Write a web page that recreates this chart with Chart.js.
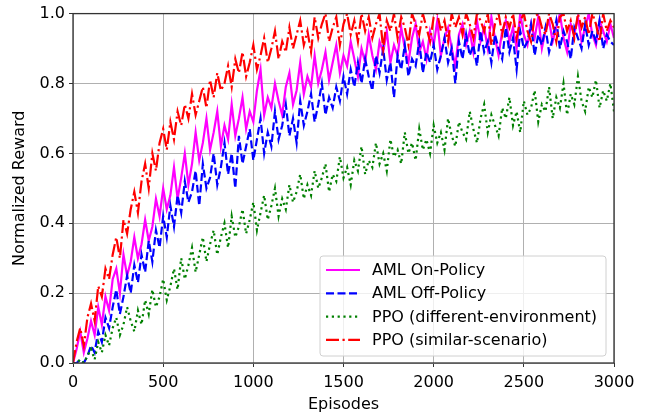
<!DOCTYPE html>
<html>
<head>
<meta charset="utf-8">
<script src="https://cdn.jsdelivr.net/npm/chart.js@4.4.0/dist/chart.umd.min.js"></script>
<style>
  body { margin: 0; background: #fff; }
  canvas { display: block; }
</style>
</head>
<body>
<canvas id="rewardChart" width="651" height="416"></canvas>
<script>
// sampled every 20 episodes, 0..3000
var amlOnPolicy = [
  0.00, 0.04, 0.09, 0.03, 0.07, 0.12, 0.08, 0.16, 0.11, 0.19,
  0.15, 0.24, 0.27, 0.20, 0.31, 0.25, 0.29, 0.36, 0.30, 0.34,
  0.41, 0.35, 0.39, 0.47, 0.42, 0.50, 0.44, 0.48, 0.56, 0.47,
  0.53, 0.60, 0.51, 0.57, 0.66, 0.58, 0.63, 0.70, 0.61, 0.66,
  0.72, 0.62, 0.68, 0.64, 0.74, 0.65, 0.70, 0.76, 0.67, 0.72,
  0.69, 0.78, 0.84, 0.71, 0.76, 0.73, 0.80, 0.75, 0.71, 0.79,
  0.83, 0.74, 0.78, 0.86, 0.77, 0.82, 0.79, 0.88, 0.80, 0.84,
  0.89, 0.81, 0.86, 0.91, 0.83, 0.88, 0.85, 0.92, 0.87, 0.82,
  0.90, 0.86, 0.94, 0.88, 0.84, 0.92, 0.89, 0.95, 0.86, 0.91,
  0.88, 0.96, 0.90, 0.86, 0.93, 0.97, 0.89, 0.92, 0.87, 0.95,
  0.91, 0.98, 0.88, 0.93, 0.96, 0.90, 0.85, 0.94, 0.97, 0.91,
  0.95, 0.89, 0.98, 0.92, 0.96, 0.90, 0.99, 0.93, 0.88, 0.95,
  0.98, 0.92, 0.96, 0.90, 1.00, 0.94, 0.91, 0.97, 0.93, 0.99,
  0.90, 0.95, 0.98, 0.92, 0.96, 1.00, 0.93, 0.89, 0.97, 0.94,
  0.99, 0.92, 0.96, 1.00, 0.94, 0.91, 0.98, 0.95, 0.92, 0.97,
  0.93
];
var amlOffPolicy = [
  0.00, 0.00, 0.01, 0.00, 0.02, 0.05, 0.03, 0.09, 0.06, 0.13,
  0.10, 0.16, 0.21, 0.14, 0.19, 0.25, 0.20, 0.28, 0.23, 0.31,
  0.26, 0.35, 0.29, 0.38, 0.33, 0.42, 0.36, 0.45, 0.39, 0.48,
  0.43, 0.52, 0.46, 0.49, 0.55, 0.45, 0.57, 0.50, 0.53, 0.60,
  0.51, 0.56, 0.63, 0.54, 0.60, 0.50, 0.65, 0.57, 0.62, 0.67,
  0.58, 0.64, 0.70, 0.60, 0.66, 0.62, 0.72, 0.64, 0.68, 0.74,
  0.65, 0.70, 0.63, 0.75, 0.68, 0.72, 0.77, 0.69, 0.74, 0.80,
  0.71, 0.76, 0.73, 0.79, 0.75, 0.82, 0.77, 0.84, 0.79, 0.86,
  0.80, 0.87, 0.82, 0.78, 0.88, 0.83, 0.90, 0.81, 0.86, 0.76,
  0.88, 0.84, 0.91, 0.82, 0.87, 0.85, 0.92, 0.83, 0.89, 0.86,
  0.91, 0.84, 0.88, 0.93, 0.86, 0.90, 0.80, 0.92, 0.87, 0.94,
  0.88, 0.91, 0.85, 0.95, 0.89, 0.92, 0.86, 0.94, 0.90, 0.87,
  0.96, 0.89, 0.93, 0.84, 0.95, 0.90, 0.92, 0.97, 0.88, 0.94,
  0.91, 0.96, 0.89, 0.93, 0.98, 0.90, 0.95, 0.92, 0.87, 0.96,
  0.93, 0.90, 0.97, 0.91, 0.95, 0.92, 0.98, 0.90, 0.94, 0.92,
  0.91
];
var ppoDifferentEnv = [
  0.00, 0.00, 0.01, 0.00, 0.02, 0.04, 0.01, 0.06, 0.03, 0.08,
  0.05, 0.10, 0.13, 0.08, 0.11, 0.16, 0.12, 0.09, 0.15, 0.11,
  0.18, 0.14, 0.21, 0.16, 0.19, 0.24, 0.18, 0.22, 0.27, 0.21,
  0.30, 0.24, 0.28, 0.33, 0.26, 0.31, 0.36, 0.29, 0.34, 0.38,
  0.31, 0.36, 0.40, 0.33, 0.42, 0.36, 0.39, 0.44, 0.37, 0.41,
  0.46, 0.38, 0.43, 0.48, 0.41, 0.45, 0.50, 0.42, 0.47, 0.44,
  0.51, 0.46, 0.49, 0.54, 0.47, 0.51, 0.48, 0.55, 0.50, 0.53,
  0.57, 0.49, 0.54, 0.52, 0.59, 0.53, 0.56, 0.51, 0.58, 0.55,
  0.62, 0.54, 0.58, 0.56, 0.63, 0.57, 0.60, 0.55, 0.64, 0.59,
  0.61, 0.57, 0.66, 0.60, 0.63, 0.58, 0.67, 0.61, 0.64, 0.60,
  0.68, 0.63, 0.66, 0.61, 0.70, 0.65, 0.62, 0.69, 0.66, 0.64,
  0.72, 0.67, 0.63, 0.70, 0.74, 0.66, 0.71, 0.68, 0.65, 0.73,
  0.70, 0.76, 0.68, 0.72, 0.66, 0.75, 0.71, 0.73, 0.78, 0.69,
  0.74, 0.72, 0.79, 0.70, 0.76, 0.73, 0.80, 0.71, 0.77, 0.74,
  0.82, 0.75, 0.72, 0.79, 0.76, 0.81, 0.73, 0.78, 0.75, 0.80,
  0.72
];
var ppoSimilarScenario = [
  0.00, 0.06, 0.10, 0.05, 0.13, 0.17, 0.12, 0.22, 0.19, 0.27,
  0.24, 0.31, 0.36, 0.30, 0.41, 0.37, 0.44, 0.49, 0.43, 0.52,
  0.57, 0.50, 0.60, 0.55, 0.63, 0.67, 0.61, 0.69, 0.64, 0.72,
  0.68, 0.74, 0.70, 0.77, 0.71, 0.75, 0.79, 0.73, 0.81, 0.76,
  0.83, 0.78, 0.80, 0.85, 0.79, 0.87, 0.83, 0.89, 0.82, 0.86,
  0.91, 0.84, 0.88, 0.93, 0.86, 0.90, 0.95, 0.87, 0.92, 0.89,
  0.96, 0.90, 0.94, 0.98, 0.91, 0.95, 0.89, 0.99, 0.93, 0.97,
  1.00, 0.92, 0.96, 0.99, 0.91, 0.97, 1.00, 0.94, 0.98, 0.92,
  1.00, 0.95, 0.99, 0.93, 0.97, 1.00, 0.90, 0.98, 0.95, 1.00,
  0.93, 0.99, 0.96, 0.91, 1.00, 0.97, 0.94, 1.00, 0.96, 0.92,
  0.99, 1.00, 0.95, 0.98, 0.92, 1.00, 0.96, 0.99, 0.94, 1.00,
  0.97, 0.93, 1.00, 0.98, 0.95, 1.00, 0.91, 0.97, 1.00, 0.94,
  0.99, 0.96, 1.00, 0.93, 0.98, 1.00, 0.95, 0.92, 0.99, 1.00,
  0.96, 0.94, 1.00, 0.97, 0.92, 0.99, 1.00, 0.95, 0.98, 0.93,
  1.00, 0.96, 0.99, 0.94, 1.00, 0.97, 0.92, 1.00, 0.95, 0.98,
  0.96
];
var episodeStep = 20;
var episodes = amlOnPolicy.map(function (_, i) { return i * episodeStep; });
var xTicks = [0, 500, 1000, 1500, 2000, 2500, 3000];
var yTicks = [0.0, 0.2, 0.4, 0.6, 0.8, 1.0];

function toPoints(values) {
  return values.map(function (v, i) { return { x: episodes[i], y: v }; });
}

var fontFamily = '"DejaVu Sans", sans-serif';
var fontSize = 16;

// matplotlib-like full frame
var frame = {
  id: 'frame',
  afterDatasetsDraw: function (chart) {
    var a = chart.chartArea, ctx = chart.ctx;
    ctx.save();
    ctx.strokeStyle = '#333333';
    ctx.lineWidth = 1.3;
    ctx.strokeRect(a.left, a.top, a.right - a.left, a.bottom - a.top);
    ctx.restore();
  }
};

// legend box inside the plot, lower right
var legendBox = {
  id: 'legendBox',
  afterDraw: function (chart) {
    var a = chart.chartArea, ctx = chart.ctx;
    var w = 286, h = 100;
    var x = a.right - 8 - w, y = a.bottom - 7 - h;
    ctx.save();
    ctx.beginPath();
    ctx.roundRect(x, y, w, h, 3);
    ctx.fillStyle = 'rgba(255,255,255,0.8)';
    ctx.fill();
    ctx.strokeStyle = '#d0d0d0';
    ctx.lineWidth = 1;
    ctx.stroke();
    ctx.font = fontSize + 'px ' + fontFamily;
    ctx.textBaseline = 'middle';
    chart.data.datasets.forEach(function (ds, i) {
      var ry = y + 14 + i * 23.3;
      ctx.beginPath();
      ctx.setLineDash(ds.borderDash || []);
      ctx.strokeStyle = ds.borderColor;
      ctx.lineWidth = ds.borderWidth;
      ctx.moveTo(x + 6, ry);
      ctx.lineTo(x + 40, ry);
      ctx.stroke();
      ctx.setLineDash([]);
      ctx.fillStyle = '#000';
      ctx.fillText(ds.label, x + 52, ry + 1);
    });
    ctx.restore();
  }
};

new Chart(document.getElementById('rewardChart'), {
  type: 'line',
  data: {
    datasets: [
      { label: 'AML On-Policy', data: toPoints(amlOnPolicy), borderColor: '#ff00ff', borderWidth: 2.2, order: 3 },
      { label: 'AML Off-Policy', data: toPoints(amlOffPolicy), borderColor: '#0000ff', borderWidth: 2.2, borderDash: [8, 3.5], order: 2 },
      { label: 'PPO (different-environment)', data: toPoints(ppoDifferentEnv), borderColor: '#008000', borderWidth: 2.2, borderDash: [2.2, 3.6], order: 1 },
      { label: 'PPO (similar-scenario)', data: toPoints(ppoSimilarScenario), borderColor: '#ff0000', borderWidth: 2.2, borderDash: [13, 3.5, 2.2, 3.5], order: 0 }
    ]
  },
  options: {
    responsive: false,
    animation: false,
    devicePixelRatio: 1,
    layout: { padding: { top: 13, right: 37, left: 0, bottom: 0 } },
    elements: { point: { radius: 0 }, line: { tension: 0 } },
    plugins: { legend: { display: false }, tooltip: { enabled: false } },
    scales: {
      x: {
        type: 'linear', min: 0, max: 3000,
        afterBuildTicks: function (s) { s.ticks = xTicks.map(function (v) { return { value: v }; }); },
        afterFit: function (s) { s.height = 53; },
        ticks: { color: '#000', font: { family: fontFamily, size: fontSize }, padding: 6, maxRotation: 0,
          callback: function (v) { return String(v); } },
        grid: { color: '#b0b0b0', lineWidth: 1, tickLength: 4, tickColor: '#333' },
        border: { display: false },
        title: { display: true, text: 'Episodes', color: '#000', font: { family: fontFamily, size: fontSize }, padding: { top: 0, bottom: 2 } }
      },
      y: {
        min: 0, max: 1,
        afterBuildTicks: function (s) { s.ticks = yTicks.map(function (v) { return { value: v }; }); },
        afterFit: function (s) { s.width = 73; },
        ticks: { color: '#000', font: { family: fontFamily, size: fontSize }, padding: 4,
          callback: function (v) { return Number(v).toFixed(1); } },
        grid: { color: '#b0b0b0', lineWidth: 1, tickLength: 4, tickColor: '#333' },
        border: { display: false },
        title: { display: true, text: 'Normalized Reward', color: '#000', font: { family: fontFamily, size: fontSize }, padding: { top: 10, bottom: 0 } }
      }
    }
  },
  plugins: [frame, legendBox]
});
</script>
</body>
</html>
